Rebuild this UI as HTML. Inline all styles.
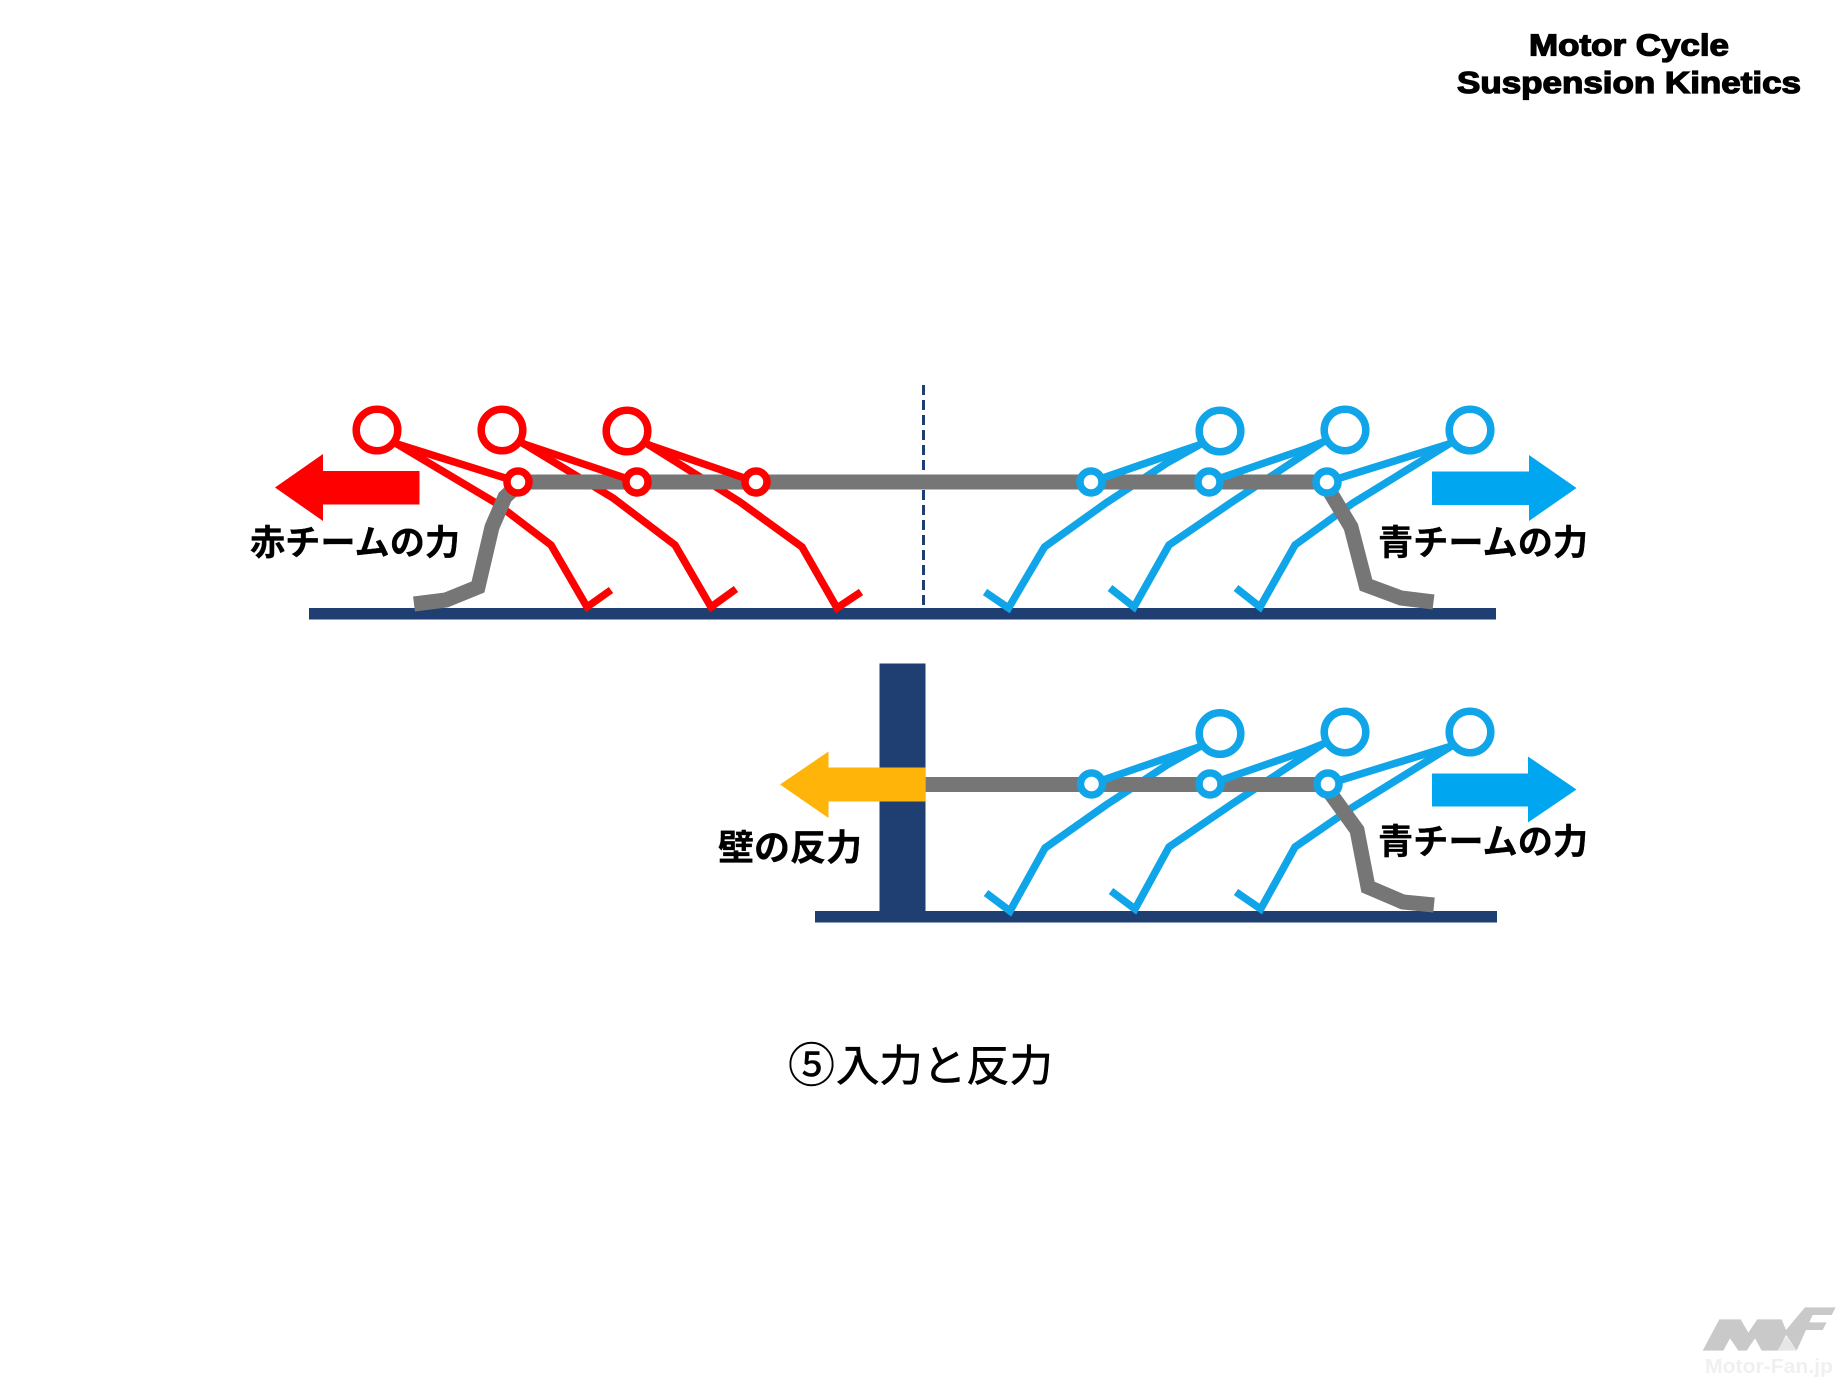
<!DOCTYPE html>
<html><head><meta charset="utf-8"><style>
html,body{margin:0;padding:0;background:#fff}
svg{display:block}
.l{font-family:"Liberation Sans","Noto Sans CJK JP",sans-serif;font-weight:700;font-size:35.2px;fill:#000;stroke:#000;stroke-width:.3px}
.t{font-family:"Liberation Sans",sans-serif;font-weight:700;font-size:31px;fill:#000;stroke:#000;stroke-width:1.3px}
.c{font-family:"Liberation Sans","Noto Sans CJK JP",sans-serif;font-size:43.4px;fill:#000;stroke:#000;stroke-width:.7px}
</style></head><body>
<svg xmlns="http://www.w3.org/2000/svg" width="1846" height="1387" viewBox="0 0 1846 1387">
<rect width="1846" height="1387" fill="#fff"/>
<text class="t" x="1529" y="55.5" textLength="200" lengthAdjust="spacingAndGlyphs">Motor Cycle</text>
<text class="t" x="1457" y="93" textLength="344" lengthAdjust="spacingAndGlyphs">Suspension Kinetics</text>

<!-- top ground -->
<rect x="309" y="608" width="1187" height="11.5" fill="#1f3e72"/>
<line x1="923.5" y1="385" x2="923.5" y2="607" stroke="#1f3e72" stroke-width="3" stroke-dasharray="10 5"/>

<!-- red bodies -->
<g fill="none" stroke="#ff0000" stroke-width="7.5" stroke-linejoin="miter">
<polyline points="377,430 397,444 496,503 551,545 587,607 611,590"/>
<polyline points="502,430 524,444 613,498 675,545 711,607 736,589"/>
<polyline points="627,431 649,445 740,502 802,547 837,608 861,592"/>
</g>
<!-- blue bodies -->
<g fill="none" stroke="#10a5e8" stroke-width="7.5">
<polyline points="1220,431 1199,445 1167,463 1106,503 1044.5,547 1008.5,608 985,592"/>
<polyline points="1345,430 1323,442 1232,502 1169,545 1134,607 1110,588"/>
<polyline points="1470,430 1449,444 1353,503 1295,545 1260,607 1236,588"/>
</g>
<!-- rope -->
<rect x="518" y="474.5" width="809" height="15" fill="#767676"/>
<polyline points="518,485 505,497 492,527 478,587 446,600 414,604" fill="none" stroke="#767676" stroke-width="15"/>
<polyline points="1327,487 1351,527 1366,585 1401,598 1433.5,602" fill="none" stroke="#767676" stroke-width="15"/>
<!-- arms and heads, red -->
<g fill="none" stroke="#ff0000" stroke-width="7.5">
<polyline points="377,430 397,444 518,482"/>
<polyline points="502,430 524,444 637,482"/>
<polyline points="627,431 649,445 756,482"/>
</g>
<g fill="#fff" stroke="#ff0000" stroke-width="7.5">
<circle cx="377" cy="430" r="20.8"/><circle cx="502" cy="430" r="20.8"/><circle cx="627" cy="431" r="20.8"/>
<circle cx="518" cy="482" r="11"/><circle cx="637" cy="482" r="11"/><circle cx="756" cy="482" r="11"/>
</g>
<!-- arms and heads, blue -->
<g fill="none" stroke="#10a5e8" stroke-width="7.5">
<polyline points="1220,431 1199,445 1184,450 1091,482"/>
<polyline points="1345,430 1323,442 1308,448 1209,482"/>
<polyline points="1470,430 1449,444 1327,482"/>
</g>
<g fill="#fff" stroke="#10a5e8" stroke-width="7.5">
<circle cx="1220" cy="431" r="20.8"/><circle cx="1345" cy="430" r="20.8"/><circle cx="1470" cy="430" r="20.8"/>
<circle cx="1091" cy="482" r="11"/><circle cx="1209" cy="482" r="11"/><circle cx="1327" cy="482" r="11"/>
</g>
<!-- top arrows -->
<polygon points="275,487.5 323,454 323,471 419.5,471 419.5,504.5 323,504.5 323,521" fill="#ff0000"/>
<polygon points="1432,471.5 1529,471.5 1529,455 1576.5,488 1529,521 1529,505 1432,505" fill="#00a6f0"/>
<text class="l" x="250" y="555">赤チームの力</text>
<text class="l" x="1378" y="555">青チームの力</text>

<!-- bottom row -->
<rect x="815" y="911" width="682" height="11.5" fill="#1f3e72"/>
<rect x="879.5" y="663.5" width="46" height="250" fill="#1f3e72"/>
<g fill="none" stroke="#10a5e8" stroke-width="7.5">
<polyline points="1220,733 1199,747 1167,765 1106,805 1045,848 1010,911 986,893"/>
<polyline points="1345,732 1323,744 1232,804 1169,847 1135,909 1111,891"/>
<polyline points="1470,732 1450,747 1353,807 1295,847 1260.7,909 1236,892"/>
</g>
<rect x="925" y="777" width="403" height="15" fill="#767676"/>
<polyline points="1328,790 1357,830 1368,887 1403,902 1434,905" fill="none" stroke="#767676" stroke-width="15"/>
<g fill="none" stroke="#10a5e8" stroke-width="7.5">
<polyline points="1220,733 1199,747 1184,752 1091.5,784"/>
<polyline points="1345,732 1323,744 1308,750 1210,784"/>
<polyline points="1470,732 1450,746.5 1328,784"/>
</g>
<g fill="#fff" stroke="#10a5e8" stroke-width="7.5">
<circle cx="1220" cy="733.5" r="20.8"/><circle cx="1345" cy="732" r="20.8"/><circle cx="1470" cy="732" r="20.8"/>
<circle cx="1091.5" cy="784" r="11"/><circle cx="1210" cy="784" r="11"/><circle cx="1328" cy="784" r="11"/>
</g>
<polygon points="780,784.5 828.5,751.5 828.5,767.5 925.7,767.5 925.7,801.5 828.5,801.5 828.5,818" fill="#ffb40a"/>
<polygon points="1432,773.5 1528,773.5 1528,756.5 1576.5,789.5 1528,822.5 1528,806.5 1432,806.5" fill="#00a6f0"/>
<text class="l" x="718" y="860" style="font-size:36px">壁の反力</text>
<text class="l" x="1378" y="854">青チームの力</text>

<text class="c" x="788" y="1082" style="font-size:47px;stroke-width:.4px">⑤</text>
<text class="c" x="836" y="1081">入力と反力</text>

<!-- logo -->
<g transform="translate(1680,1290) scale(.3333)">
<polygon points="68,182 118,88 182,88 205,128 232,88 305,88 318,120 375,52 467,52 455,75 398,75 388,97 440,97 428,120 378,120 350,182 318,135 295,182 245,182 225,145 200,182 175,182 150,145 130,182" fill="#c9c9c9"/>
<polygon points="318,140 350,182 292,182" fill="#e6e6e6"/>
</g>
<text x="1705" y="1373" font-family="Liberation Sans,sans-serif" font-weight="700" font-size="20" fill="#f0f0f0" textLength="128" lengthAdjust="spacingAndGlyphs">Motor-Fan.jp</text>
</svg>
</body></html>
